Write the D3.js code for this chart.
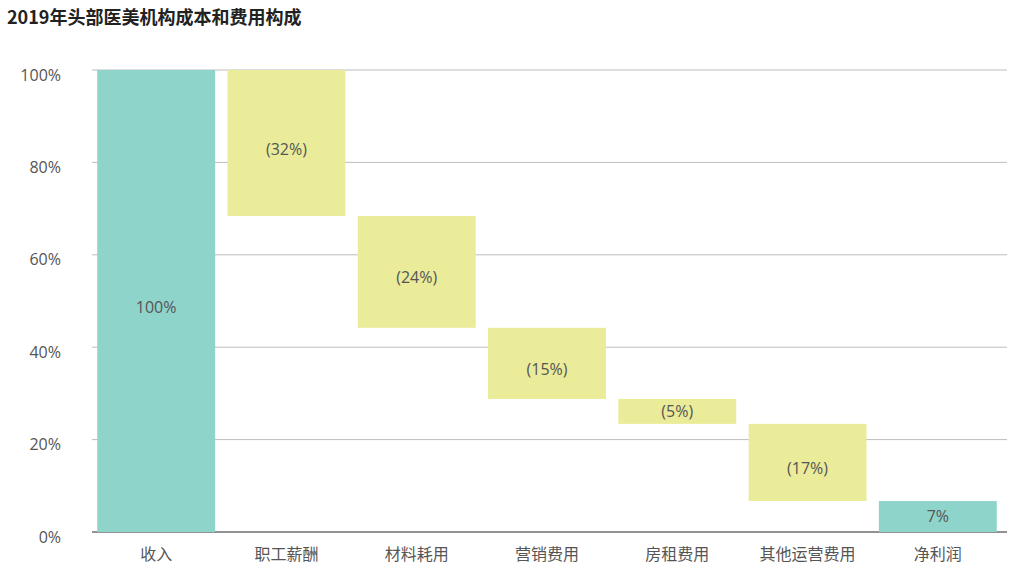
<!DOCTYPE html>
<html>
<head>
<meta charset="utf-8">
<script src="https://cdn.jsdelivr.net/npm/d3@7"></script>
<style>
body { margin: 0; background: #fff; }
text { font-family: "Open Sans", "Noto Sans CJK SC", sans-serif; }
</style>
</head>
<body>
<svg></svg>
<script>
let categories = ["收入", "职工薪酬", "材料耗用", "营销费用", "房租费用", "其他运营费用", "净利润"]
// values (labels are rounded)
let values = [100, -31.6, -24.2, -15.4, -5.4, -16.7, 6.7]
let labels = ["100%", "(32%)", "(24%)", "(15%)", "(5%)", "(17%)", "7%"]
let yTicks = [0, 20, 40, 60, 80, 100]

var svg = d3.select("svg")
    .attr("width", 1024)
    .attr("height", 578)

svg.append("text")
    .attr("x", 7)
    .attr("y", 24)
    .attr("font-size", 18)
    .attr("font-weight", "bold")
    .attr("fill", "#222")
    .style("font-family", "'Noto Sans CJK SC', sans-serif")
    .text("2019年头部医美机构成本和费用构成")

// waterfall: build start/end for each bar
let running = 0
let bars = values.map((v, i) => {
    let y0, y1
    if (i == 0 || i == values.length - 1) { y0 = 0; y1 = v; running = v }
    else { y0 = running; y1 = running + v; running = y1 }
    return {cat: categories[i], lo: Math.min(y0, y1), hi: Math.max(y0, y1), total: (i == 0 || i == values.length - 1), label: labels[i]}
})

let scX = d3.scaleBand()
    .domain(categories)
    .range([92, 1002])
    .paddingInner(0.095)
    .paddingOuter(0.04)

let scY = d3.scaleLinear()
    .domain([0, 100])
    .range([532, 70])

// gridlines
svg.append("g").selectAll("line")
    .data(yTicks).enter().append("line")
    .attr("x1", 92).attr("x2", 1007)
    .attr("y1", d => scY(d)).attr("y2", d => scY(d))
    .attr("stroke", d => d == 0 ? "#6e6e6e" : "#bdbdbd")
    .attr("stroke-width", d => d == 0 ? 1.5 : 1)

let yAxis = d3.axisLeft(scY)
    .tickValues(yTicks)
    .tickSize(0)
    .tickPadding(0)
    .tickFormat(d => d + "%")

svg.append("g")
    .attr("transform", "translate(61,5)")
    .call(yAxis)
    .call(g => g.select(".domain").remove())
    .call(g => g.selectAll("text").attr("font-size", 16).attr("fill", "#555")
        .style("font-family", "'Open Sans', sans-serif"))

svg.append("g").selectAll("rect")
    .data(bars).enter().append("rect")
    .attr("x", d => scX(d.cat))
    .attr("width", scX.bandwidth())
    .attr("y", d => scY(d.hi))
    .attr("height", d => scY(d.lo) - scY(d.hi))
    .attr("fill", d => d.total ? "#8fd4cb" : "#eaec9a")

svg.append("g").selectAll("text")
    .data(bars).enter().append("text")
    .attr("x", d => scX(d.cat) + scX.bandwidth() / 2)
    .attr("y", d => {
        let h = scY(d.lo) - scY(d.hi)
        return (scY(d.lo) + scY(d.hi)) / 2 + (h > 50 ? 6 : 0)
    })
    .attr("dy", "0.35em")
    .attr("text-anchor", "middle")
    .attr("font-size", 16)
    .attr("fill", "#555")
    .text(d => d.label)

let xAxis = d3.axisBottom(scX).tickSize(0).tickPadding(17)
svg.append("g")
    .attr("transform", "translate(0,532)")
    .call(xAxis)
    .call(g => g.select(".domain").remove())
    .call(g => g.selectAll("text").attr("font-size", 16).attr("fill", "#555")
        .style("font-family", "'Noto Sans CJK SC', sans-serif"))
</script>
</body>
</html>
